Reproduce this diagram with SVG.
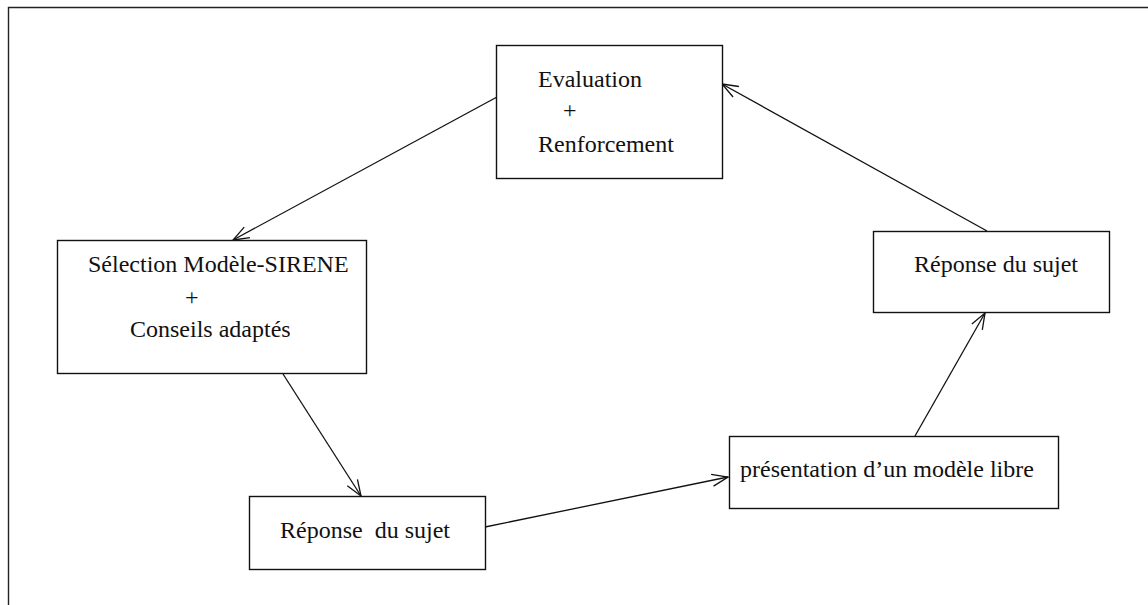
<svg xmlns="http://www.w3.org/2000/svg" width="1148" height="605" viewBox="0 0 1148 605">
<style>
.box{fill:#fff;stroke:#111;stroke-width:1.4}
.lbl{font-family:"Liberation Serif","Times New Roman",serif;font-size:24px;fill:#111}
.conn{fill:none;stroke:#111;stroke-width:1.3}
.frame{fill:none;stroke:#222;stroke-width:1.4}
</style>
<defs>
<marker id="arr" markerUnits="userSpaceOnUse" markerWidth="20" markerHeight="14" viewBox="0 0 20 14" refX="18" refY="7" orient="auto">
<path d="M2,1 L18,7 L2,13" fill="none" stroke="#111" stroke-width="1.3"/>
</marker>
</defs>
<rect width="1148" height="605" fill="#fff"/>
<path class="frame" d="M8.5,605 L8.5,7.5 L1148,7.5"/>
<g id="connectors">
<line class="conn" x1="497" y1="97" x2="233" y2="240" marker-end="url(#arr)"/>
<line class="conn" x1="283" y1="374" x2="361" y2="496" marker-end="url(#arr)"/>
<line class="conn" x1="485" y1="527" x2="728" y2="477" marker-end="url(#arr)"/>
<line class="conn" x1="915" y1="436" x2="985" y2="313" marker-end="url(#arr)"/>
<line class="conn" x1="987" y1="231" x2="722" y2="84" marker-end="url(#arr)"/>
</g>
<g id="node-evaluation">
<rect class="box" x="496.5" y="45.5" width="226" height="133"/>
<text class="lbl" x="538" y="87">Evaluation</text>
<text class="lbl" x="563" y="118">+</text>
<text class="lbl" x="538" y="152">Renforcement</text>
</g>
<g id="node-selection">
<rect class="box" x="57.5" y="240.5" width="309" height="133"/>
<text class="lbl" x="88" y="272">Sélection Modèle-SIRENE</text>
<text class="lbl" x="185" y="305">+</text>
<text class="lbl" x="130" y="337">Conseils adaptés</text>
</g>
<g id="node-reponse1">
<rect class="box" x="249.5" y="496.5" width="236" height="73"/>
<text class="lbl" x="280" y="538" xml:space="preserve">Réponse  du sujet</text>
</g>
<g id="node-presentation">
<rect class="box" x="729.5" y="436.5" width="329" height="72"/>
<text class="lbl" x="740" y="477">présentation d’un modèle libre</text>
</g>
<g id="node-reponse2">
<rect class="box" x="873.5" y="231.5" width="236" height="81"/>
<text class="lbl" x="914" y="272">Réponse du sujet</text>
</g>
</svg>
